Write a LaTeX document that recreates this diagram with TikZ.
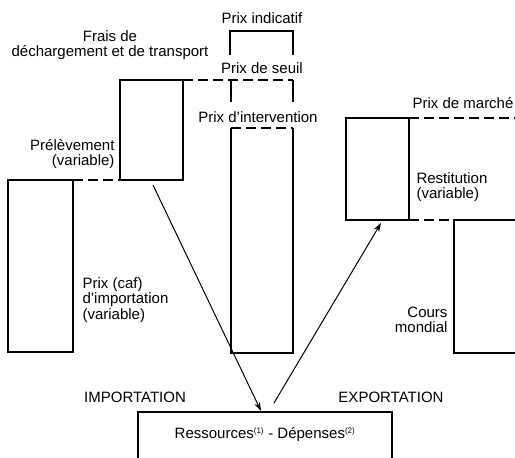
\documentclass[tikz,border=0pt]{standalone}
\usepackage{fontspec}
\setmainfont{Liberation Sans}
\usetikzlibrary{arrows.meta}
\begin{document}
\begin{tikzpicture}[x=1pt,y=-1pt,line width=1.1pt,
  lbl/.style={font=\fontsize{15}{15.5}\selectfont,inner sep=0pt},
  dsh/.style={dash pattern=on 10pt off 5pt},
  arr/.style={-{Stealth[length=9pt,width=6pt]},line width=1pt}]
\useasboundingbox (0,0) rectangle (515,458);
\clip (0,0) rectangle (515,458);
% import side boxes
\draw (8,180) rectangle (73,352);
\draw (120,80) rectangle (183,180);
\draw[dsh] (73,180) -- (120,180);
\draw[dsh] (183,80) -- (293,80);
% centre column
\draw (230,55) -- (230,31) -- (293,31) -- (293,55);
\draw (231,80) -- (231,102);
\draw (293,80) -- (293,102);
\draw (293,128) -- (293,353) -- (231,353) -- (231,128);
\draw[dsh] (231,128) -- (293,128);
% export side boxes
\draw (346,118) rectangle (409,220);
\draw[dsh] (409,118) -- (525,118);
\draw[dsh] (409,220) -- (454,220);
\draw (525,220) -- (454,220) -- (454,353) -- (525,353);
% bottom box
\draw (138,475) -- (138,412) -- (392,412) -- (392,475);
\node[lbl,anchor=center] (res) at (265,435) {Ressources\textsuperscript{\fontsize{8}{8}\selectfont(1)} - Dépenses\textsuperscript{\fontsize{8}{8}\selectfont(2)}};
\coordinate (resin) at (261,411);
\coordinate (resout) at (274,403);
% labels
\node[lbl,align=center] (frais) at (110,45) {Frais de\\déchargement et de transport};
\node[lbl] (indic) at (262,18) {Prix indicatif};
\node[lbl] (seuil) at (262,68) {Prix de seuil};
\node[lbl] (interv) at (258,117) {Prix d'intervention};
\node[lbl,anchor=east] (marche) at (514,103) {Prix de marché};
\node[lbl,align=right,anchor=east] (prel) at (115,154) {Prélèvement\\(variable)};
\node[lbl,align=left,anchor=west] (restit) at (416,187) {Restitution\\(variable)};
\node[lbl,align=left,anchor=west] (caf) at (82,300) {Prix (caf)\\d'importation\\(variable)};
\node[lbl,align=right,anchor=east] (cours) at (448,320) {Cours\\mondial};
\node[lbl] (imp) at (135,397) {IMPORTATION};
\node[lbl] (exp) at (391,397) {EXPORTATION};
% arrows
\coordinate (prelout) at (153,185);
\coordinate (restin) at (381,223);
\draw[arr] (prelout) -- (resin);
\draw[arr] (resout) -- (restin);
\end{tikzpicture}
\end{document}
